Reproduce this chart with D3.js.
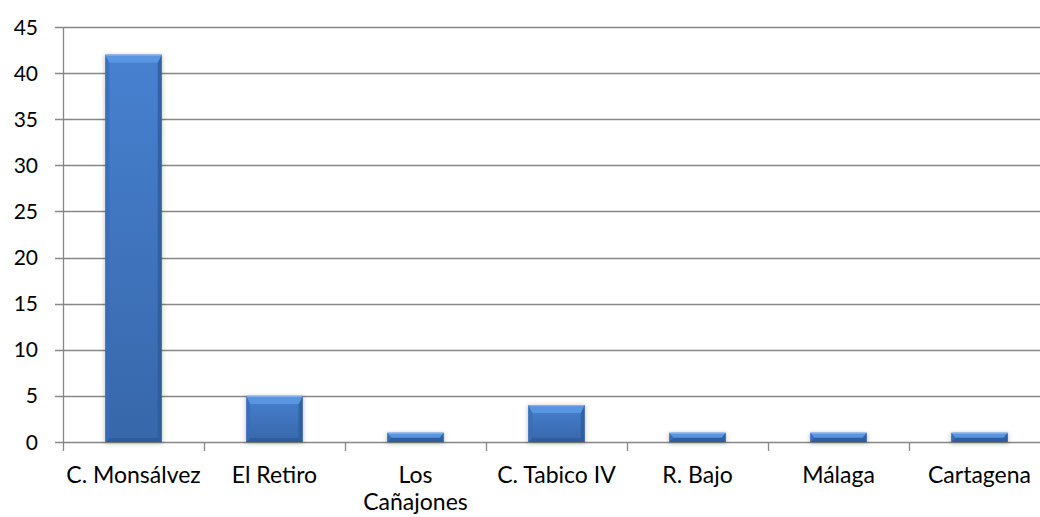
<!DOCTYPE html>
<html>
<head>
<meta charset="utf-8">
<script src="https://cdn.jsdelivr.net/npm/d3@7"></script>
<style>
  body { margin: 0; background: #fff; }
  svg text { font-family: Lato, "Open Sans", sans-serif; fill: #000; }
</style>
</head>
<body>
<div id="chart"></div>
<script>
const categories = ["C. Monsálvez", "El Retiro", "Los Cañajones", "C. Tabico IV", "R. Bajo", "Málaga", "Cartagena"];
const values = [42, 5, 1, 4, 1, 1, 1];
const yTicks = [0, 5, 10, 15, 20, 25, 30, 35, 40, 45];

const width = 1040;
const height = 517;
const margin = {top: 27, right: -10, bottom: 75, left: 63};

const svg = d3.select("#chart").append("svg")
  .attr("width", width)
  .attr("height", height);

const x = d3.scaleBand()
  .domain(categories)
  .range([margin.left, width - margin.right])
  .paddingInner(0.6)
  .paddingOuter(0.3);

const y = d3.scaleLinear()
  .domain([0, 45])
  .range([height - margin.bottom, margin.top]);

const defs = svg.append("defs");
const grad = defs.append("linearGradient").attr("id", "barFill").attr("x1", 0).attr("y1", 0).attr("x2", 0).attr("y2", 1);
grad.append("stop").attr("offset", "0%").attr("stop-color", "#4781d0");
grad.append("stop").attr("offset", "100%").attr("stop-color", "#3767aa");
const shadow = defs.append("filter").attr("id", "shadow").attr("x", "-20%").attr("y", "-20%").attr("width", "140%").attr("height", "140%");
shadow.append("feGaussianBlur").attr("stdDeviation", 2);

// gridlines
svg.append("g").selectAll("line")
  .data(yTicks)
  .join("line")
  .attr("x1", margin.left - 8)
  .attr("x2", width)
  .attr("y1", d => Math.round(y(d)) + 0.5)
  .attr("y2", d => Math.round(y(d)) + 0.5)
  .attr("stroke", "#878787")
  .attr("stroke-width", 1.3);

// y axis line
svg.append("line")
  .attr("x1", margin.left + 0.5).attr("x2", margin.left + 0.5)
  .attr("y1", y(45)).attr("y2", y(0) + 9)
  .attr("stroke", "#878787").attr("stroke-width", 1.3);

// category ticks
const step = x.step();
svg.append("g").selectAll("line")
  .data(categories)
  .join("line")
  .attr("x1", d => Math.round(x(d) - x.paddingOuter() * step + step) + 0.5)
  .attr("x2", d => Math.round(x(d) - x.paddingOuter() * step + step) + 0.5)
  .attr("y1", y(0))
  .attr("y2", y(0) + 9)
  .attr("stroke", "#878787")
  .attr("stroke-width", 1.3);

// y tick labels
svg.append("g").selectAll("text")
  .data(yTicks)
  .join("text")
  .attr("x", 38)
  .attr("y", d => y(d))
  .attr("dy", "0.36em")
  .attr("text-anchor", "end")
  .style("font-size", "21px")
  .text(d => d);

// bars with bevel
const bars = svg.append("g").selectAll("g")
  .data(categories.map((c, i) => ({c, v: values[i]})))
  .join("g");

bars.append("rect")
  .attr("x", d => x(d.c) - 1)
  .attr("y", d => y(d.v))
  .attr("width", x.bandwidth() + 2)
  .attr("height", d => y(0) - y(d.v) + 2)
  .attr("fill", "#000")
  .attr("opacity", 0.2)
  .attr("filter", "url(#shadow)");

bars.append("rect")
  .attr("x", d => x(d.c))
  .attr("y", d => y(d.v))
  .attr("width", x.bandwidth())
  .attr("height", d => y(0) - y(d.v))
  .attr("fill", "url(#barFill)");

bars.each(function(d) {
  const g = d3.select(this);
  const x0 = x(d.c), x1 = x0 + x.bandwidth();
  const y0 = y(d.v), y1 = y(0);
  const b = Math.min(8, (y1 - y0) / 2);
  const s = Math.min(4, b);
  const poly = (pts, fill, op) => g.append("polygon")
    .attr("points", pts.map(p => p.join(",")).join(" "))
    .attr("fill", fill)
    .attr("opacity", op);
  poly([[x0, y1], [x0 + s, y1 - s], [x1 - s, y1 - s], [x1, y1]], "#2a5896", 0.7);
  poly([[x0, y0], [x0 + s, y0 + b], [x0 + s, y1 - s], [x0, y1]], "#3a6db5", 0.8);
  poly([[x1, y0], [x1 - s, y0 + b], [x1 - s, y1 - s], [x1, y1]], "#2c5b9b", 0.8);
  poly([[x0, y0], [x1, y0], [x1 - s, y0 + b], [x0 + s, y0 + b]], "#5a95e2", 1);
  g.append("line")
    .attr("x1", x0 + 1).attr("x2", x1 - 1)
    .attr("y1", y0 + 0.5).attr("y2", y0 + 0.5)
    .attr("stroke", "#86b6f2").attr("stroke-width", 1);
});

// category labels
const labels = svg.append("g").selectAll("text")
  .data(categories)
  .join("text")
  .attr("x", d => x(d) + x.bandwidth() / 2)
  .attr("y", 483)
  .attr("text-anchor", "middle")
  .style("font-size", "23px");

labels.each(function(d) {
  const t = d3.select(this);
  if (d === "Los Cañajones") {
    t.append("tspan").attr("x", x(d) + x.bandwidth() / 2).text("Los");
    t.append("tspan").attr("x", x(d) + x.bandwidth() / 2).attr("dy", 27).text("Cañajones");
  } else {
    t.text(d);
  }
});
</script>
</body>
</html>
